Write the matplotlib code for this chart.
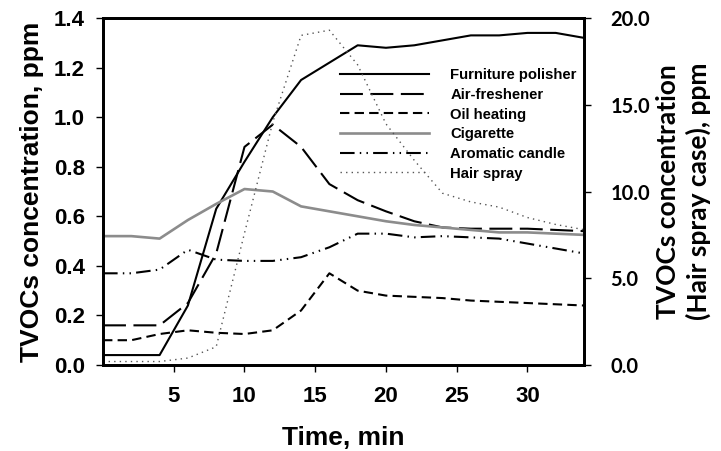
import matplotlib
matplotlib.use('Agg')
from matplotlib import pyplot as plt
from matplotlib.ticker import FormatStrFormatter

time = [0, 2, 4, 6, 8, 10, 12, 14, 16, 18, 20, 22, 24, 26, 28, 30, 32, 34]

furniture = [0.04, 0.04, 0.04, 0.24, 0.63, 0.82, 1.0, 1.15, 1.22, 1.29,
             1.28, 1.29, 1.31, 1.33, 1.33, 1.34, 1.34, 1.32]
air_freshener = [0.16, 0.16, 0.16, 0.25, 0.45, 0.88, 0.97, 0.88, 0.73, 0.665,
                 0.62, 0.58, 0.555, 0.55, 0.55, 0.55, 0.545, 0.54]
oil_heating = [0.10, 0.10, 0.125, 0.14, 0.13, 0.125, 0.14, 0.22, 0.37, 0.30,
               0.28, 0.275, 0.27, 0.26, 0.255, 0.25, 0.245, 0.24]
cigarette = [0.52, 0.52, 0.51, 0.585, 0.65, 0.71, 0.70, 0.64, 0.62, 0.60,
             0.58, 0.565, 0.555, 0.545, 0.535, 0.535, 0.53, 0.525]
candle = [0.37, 0.37, 0.385, 0.465, 0.425, 0.42, 0.42, 0.435, 0.475, 0.53,
          0.53, 0.515, 0.52, 0.515, 0.51, 0.49, 0.47, 0.45]
hair_spray = [0.2, 0.2, 0.2, 0.4, 1.05, 7.6, 14.0, 19.0, 19.3, 17.3,
              13.9, 11.8, 9.9, 9.4, 9.1, 8.5, 8.1, 7.8]

arial = 'Liberation Sans'
calibri = 'Lato'

fig = plt.figure(figsize=(7.21, 4.51), dpi=100)
ax = fig.add_axes([0.1429, 0.1907, 0.6671, 0.7693])
ax2 = ax.twinx()

lw = 1.5
l1, = ax.plot(time, furniture, color='black', lw=lw, label='Furniture polisher')
l2, = ax.plot(time, air_freshener, color='black', lw=lw, dashes=(11, 3.6),
              label='Air-freshener')
l3, = ax.plot(time, oil_heating, color='black', lw=lw, dashes=(4.5, 2.5),
              label='Oil heating')
l4, = ax.plot(time, cigarette, color='#8c8c8c', lw=1.9, label='Cigarette')
l5, = ax.plot(time, candle, color='black', lw=lw,
              dashes=(7, 2.5, 0.7, 2.5, 0.7, 2.5), label='Aromatic candle')
l6, = ax2.plot(time, hair_spray, color='#555555', lw=1.0, dashes=(1, 3),
               label='Hair spray')

ax.set_xlim(0, 34)
ax.set_ylim(0, 1.4)
ax2.set_ylim(0, 20)
ax.set_xticks([5, 10, 15, 20, 25, 30])
ax.set_yticks([0, 0.2, 0.4, 0.6, 0.8, 1.0, 1.2, 1.4])
ax2.set_yticks([0, 5, 10, 15, 20])
ax.yaxis.set_major_formatter(FormatStrFormatter('%.1f'))
ax2.yaxis.set_major_formatter(FormatStrFormatter('%.1f'))

for a in (ax, ax2):
    for s in a.spines.values():
        s.set_linewidth(2)
    a.tick_params(direction='out', length=5, width=1)
ax.tick_params(axis='y', pad=8)
ax.tick_params(axis='x', pad=10)
ax2.tick_params(axis='y', pad=14)

for lab in ax.get_xticklabels() + ax.get_yticklabels():
    lab.set_fontfamily(arial)
    lab.set_fontweight('bold')
    lab.set_fontsize(16)
for lab in ax2.get_yticklabels():
    lab.set_fontfamily(calibri)
    lab.set_fontweight('bold')
    lab.set_fontsize(14.5)

ax.set_xlabel('Time, min', family=arial, weight='bold', fontsize=19, labelpad=14)
ax.set_ylabel('TVOCs concentration, ppm', family=arial, weight='bold',
              fontsize=19, labelpad=7)
ax2.set_ylabel('TVOCs concentration\n(Hair spray case), ppm', family=calibri,
               weight='bold', fontsize=19, labelpad=4, linespacing=1.3)

ax.legend(handles=[l1, l2, l3, l4, l5, l6], loc='upper left',
          bbox_to_anchor=(0.493, 0.855), frameon=False, borderpad=0,
          borderaxespad=0, handlelength=6.0, handletextpad=1.4,
          labelspacing=0.38, prop={'family': arial, 'weight': 'bold', 'size': 10.7})

fig.savefig('out.png', dpi=100)
